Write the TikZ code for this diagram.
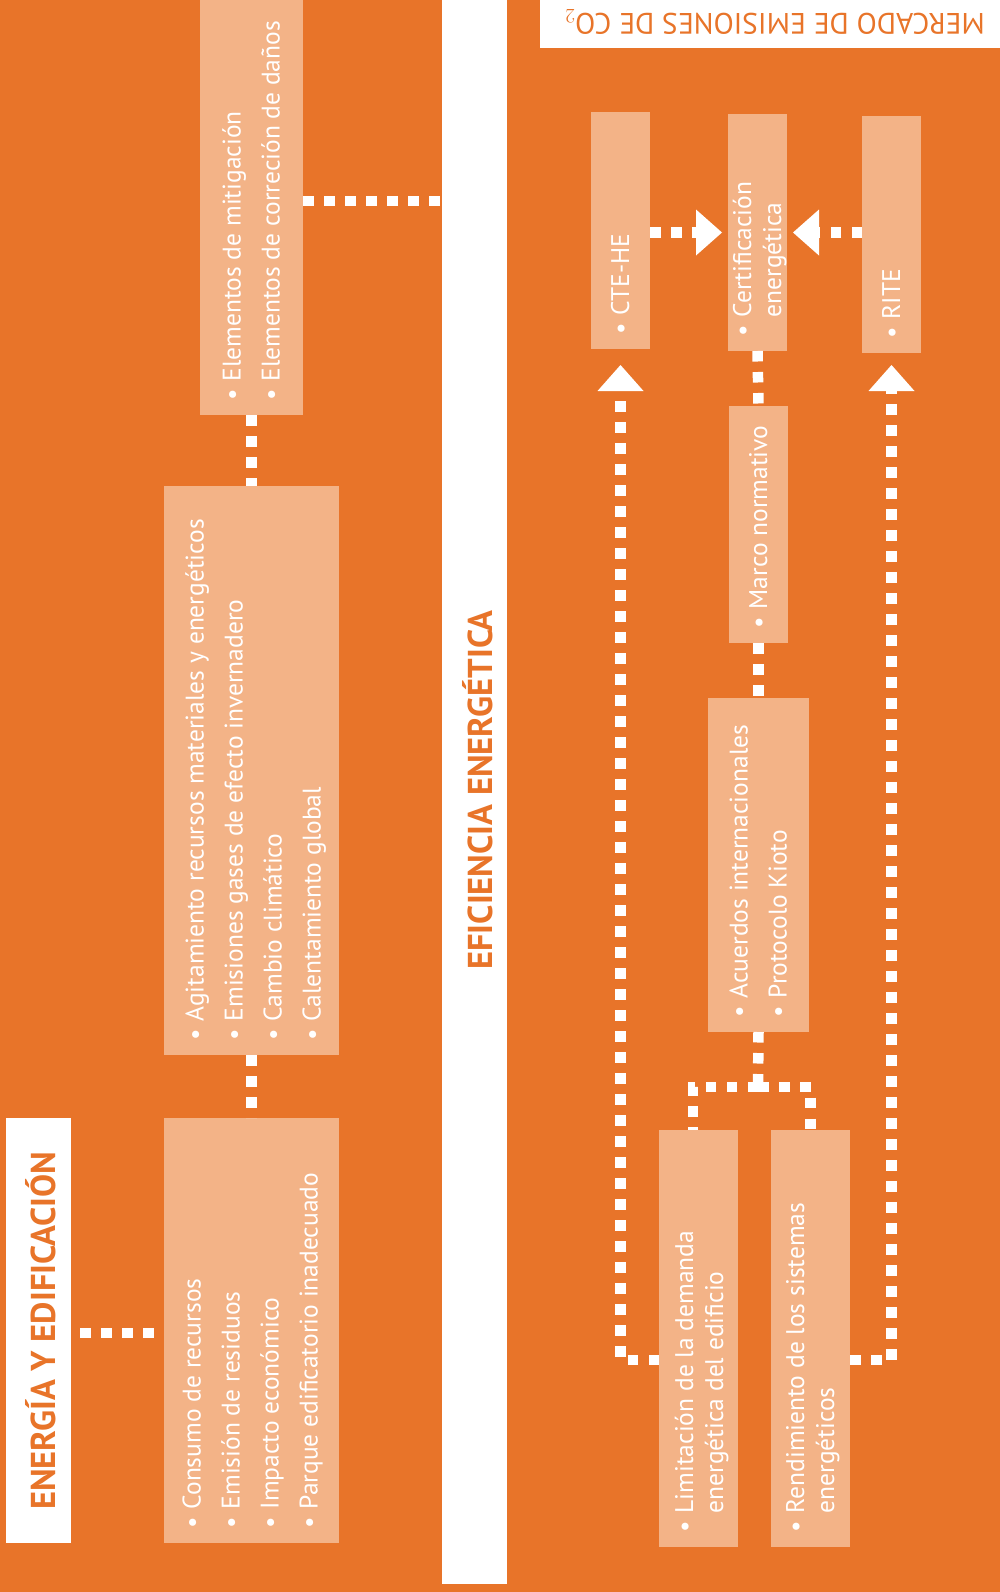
\documentclass[tikz,border=0pt]{standalone}
\usepackage{fontspec}
\setmainfont{PT Sans}
\usetikzlibrary{arrows.meta}
\definecolor{bgor}{HTML}{E87429}
\definecolor{salmon}{HTML}{F3B387}
\newcommand\rbox[5]{\node[boxr, minimum width={(#4-#2)*1pt}, minimum height={(#5-#3)*1pt}, anchor=north west] (#1) at (#2,#3) {};}
\tikzset{
  boxr/.style={fill=salmon, draw=none, inner sep=0pt, outer sep=0pt},
  wbox/.style={fill=white, draw=none, inner sep=0pt, outer sep=0pt},
  dots/.style={draw=white, line width=10.5pt, dash pattern=on 10.5pt off 10.5pt},
  tip/.style={-{Triangle[width=46pt,length=26pt,line width=0pt]}},
  lst/.style={rotate=90, anchor=west, inner sep=0pt, text=white, font=\fontsize{25.5}{30}\selectfont},
  ttl/.style={inner sep=0pt, text=bgor, font=\fontsize{34.5}{38}\selectfont\bfseries},
}
\newenvironment{blist}{\begin{tabular}{@{}l@{\hspace{8pt}}l@{}}}{\end{tabular}}
\begin{document}
\begin{tikzpicture}[x=1pt,y=-1pt]
\useasboundingbox (0,0) rectangle (1000,1592);
\fill[bgor] (0,0) rectangle (1000,1592);
% white bands / title boxes
\node[wbox, minimum width=65pt, minimum height=1584pt, anchor=north west] (strip) at (442,0) {};
\node[ttl, rotate=90] (tef) at (478,790) {EFICIENCIA ENERGÉTICA};
\node[wbox, minimum width=460pt, minimum height=48pt, anchor=north west] (merc) at (540,0) {};
\node[inner sep=0pt, text=bgor, font=\fontsize{29.5}{32}\selectfont, rotate=180] (tmerc) at (775,22) {MERCADO DE EMISIONES DE CO$_2$};
\node[wbox, minimum width=65pt, minimum height=425pt, anchor=north west] (ener) at (6,1118) {};
\node[ttl, rotate=90] (tener) at (41,1331) {ENERGÍA Y EDIFICACIÓN};
% left column boxes
\rbox{b1}{200}{0}{303}{415}
\rbox{b2}{164}{486}{339}{1055}
\rbox{b3}{164}{1118}{339}{1543}
% right side boxes
\rbox{cte}{591}{112}{650}{349}
\rbox{cert}{728}{114}{787}{351}
\rbox{rite}{862}{116}{921}{353}
\rbox{marco}{729}{406}{788}{643}
\rbox{acu}{708}{698}{809}{1032}
\rbox{lim}{659}{1130}{738}{1547}
\rbox{ren}{771}{1130}{850}{1547}
% texts
\node[lst] (tb1) at (254,401) {\begin{blist}• & Elementos de mitigación\\[9pt] • & Elementos de correción de daños\end{blist}};
\node[lst] (tb2) at (256,1041) {\begin{blist}• & Agitamiento recursos materiales y energéticos\\[9pt] • & Emisiones gases de efecto invernadero\\[9pt] • & Cambio climático\\[9pt] • & Calentamiento global\end{blist}};
\node[lst] (tb3) at (253,1529) {\begin{blist}• & Consumo de recursos\\[9pt] • & Emisión de residuos\\[9pt] • & Impacto económico\\[9pt] • & Parque edificatorio inadecuado\end{blist}};
\node[lst] (tcte) at (623,335) {\begin{blist}• & CTE-HE\end{blist}};
\node[lst] (tcert) at (760,337) {\begin{blist}• & Certificación\\ & energética\end{blist}};
\node[lst] (trite) at (894,339) {\begin{blist}• & RITE\end{blist}};
\node[lst] (tmarco) at (761,629) {\begin{blist}• & Marco normativo\end{blist}};
\node[lst] (tacu) at (761,1018) {\begin{blist}• & Acuerdos internacionales\\[9pt] • & Protocolo Kioto\end{blist}};
\node[lst] (tlim) at (702,1533) {\begin{blist}• & Limitación de la demanda\\ & energética del edificio\end{blist}};
\node[lst] (tren) at (813,1533) {\begin{blist}• & Rendimiento de los sistemas\\ & energéticos\end{blist}};
% connectors left
\draw[dots] ([yshift=6.5pt]b1.east) -- ([yshift=6.5pt]b1.east -| strip.west);
\draw[dots] (b1.south) -- (b2.north);
\draw[dots] (b2.south) -- (b3.north);
\draw[dots, shorten <=9pt, shorten >=9pt] ([yshift=-2.5pt]ener.east) -- ([yshift=-2.5pt]b3.west);
% connectors right
\draw[dots] (cert.south) -- (marco.north);
\draw[dots] (marco.south) -- (acu.north);
\coordinate (j) at (758,1087);
\draw[dots] (acu.south) -- (j);
\draw[dots] (j) -| ([xshift=-5.5pt]lim.north);
\draw[dots] (j) -| (ren.north);
\draw[dots, tip] (cte.east |- cert.west) -- ([xshift=-6pt]cert.west);
\draw[dots, tip] (rite.west |- cert.east) -- ([xshift=6pt]cert.east);
\draw[dots, tip] ([yshift=-21.5pt]lim.west) -| ([yshift=-16pt]cte.south);
\draw[dots, tip] ([yshift=-21.5pt]ren.east) -| ([yshift=-12pt]rite.south);
\end{tikzpicture}
\end{document}
